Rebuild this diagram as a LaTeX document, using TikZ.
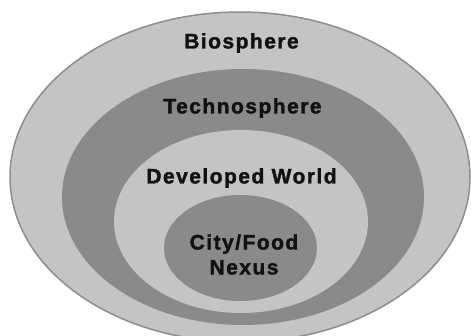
\documentclass[tikz,border=0pt]{standalone}
\usepackage{fontspec}
\setmainfont{Liberation Sans}[LetterSpace=7, BoldFeatures={FakeBold=1.6}]
\definecolor{ringlight}{HTML}{C4C4C4}
\definecolor{ringdark}{HTML}{8A8A8A}
\definecolor{rimline}{HTML}{8E8E8E}
\definecolor{labeltext}{HTML}{111111}
\tikzset{
  label/.style={font=\fontsize{21}{25}\selectfont\bfseries, text=labeltext,
    align=center, inner sep=0pt},
}
\begin{document}
\begin{tikzpicture}[x=1pt,y=-1pt]
  \useasboundingbox (0,0) rectangle (471,336);
  \clip (0,0) rectangle (471,336);
  % nested spheres, outermost first
  \filldraw[fill=ringlight, draw=rimline, line width=1.5pt]
    (240,177) ellipse [x radius=230pt, y radius=165pt];
  \fill[ringdark]  (243,197)   ellipse [x radius=181pt, y radius=128pt];
  \fill[ringlight] (241,221.5) ellipse [x radius=127pt, y radius=91.5pt];
  \fill[ringdark]  (240.5,248) ellipse [x radius=76.5pt, y radius=53pt];
  % labels
  \node[label] (bio)   at (241.5,43)  {Biosphere};
  \node[label] (tech)  at (242.5,108) {Technosphere};
  \node[label] (dev)   at (241.5,178) {Developed World};
  \node[label] (nexus) at (244,254.5) {City/Food\\Nexus};
\end{tikzpicture}
\end{document}
